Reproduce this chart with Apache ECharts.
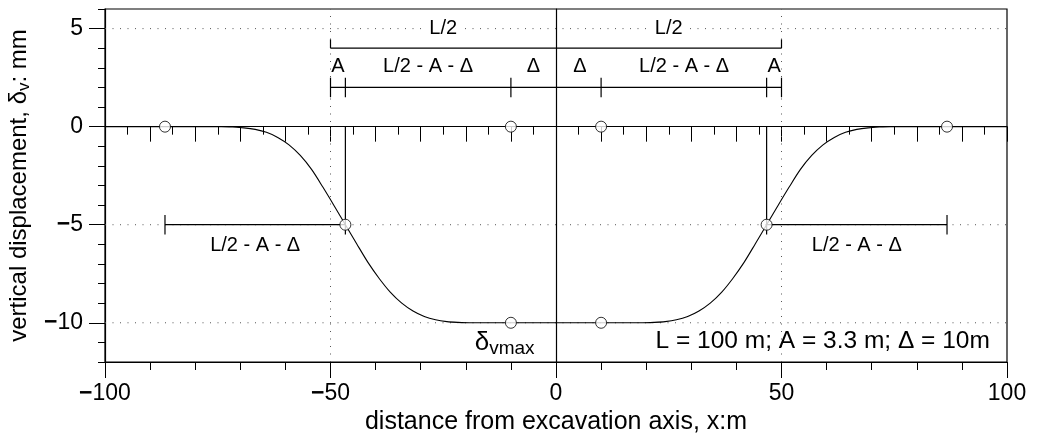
<!DOCTYPE html>
<html>
<head>
<meta charset="utf-8">
<script src="https://cdn.jsdelivr.net/npm/echarts@6/dist/echarts.min.js"></script>
<style>
  html, body { margin: 0; padding: 0; background: #fff; }
  #chart { width: 1042px; height: 436px; }
</style>
</head>
<body>
<div id="chart"></div>
<script>
const FONT = '"Liberation Sans", Arial, Helvetica, sans-serif';

// Axis ranges (x: m, δv: mm)
const X_RANGE = [-100, 100];
const Y_RANGE = [-12, 6];
const yMajorTicks = [-10, -5, 0, 5];

// Settlement trough δv(x)
const profileX = [-100, -90, -80, -74.2, -71.7, -69.2, -66.7, -64.2, -61.7, -59.2,
  -56.7, -54.2, -51.7, -49.2, -46.7, -44.2, -41.7, -39.2, -36.7, -34.2,
  -31.7, -29.2, -26.7, -24.2, -21.7, -19.2, -10, 0,
  10, 19.2, 21.7, 24.2, 26.7, 29.2, 31.7, 34.2, 36.7, 39.2,
  41.7, 44.2, 46.7, 49.2, 51.7, 54.2, 56.7, 59.2, 61.7, 64.2,
  66.7, 69.2, 71.7, 74.2, 80, 90, 100];
const profileY = [0, 0, 0, 0, -0.02, -0.06, -0.14, -0.29, -0.55, -0.93,
  -1.47, -2.18, -3.08, -4.03, -5.00, -5.97, -6.92, -7.74, -8.45, -9.00,
  -9.40, -9.68, -9.85, -9.94, -9.98, -10, -10, -10,
  -10, -10, -9.98, -9.94, -9.85, -9.68, -9.40, -9.00, -8.45, -7.74,
  -6.92, -5.97, -5.00, -4.03, -3.08, -2.18, -1.47, -0.93, -0.55, -0.29,
  -0.14, -0.06, -0.02, 0, 0, 0, 0];

// Characteristic points on the profile
const pointX = [-86.7, -10, 10, 86.7, -46.7, 46.7, -10, 10];
const pointY = [0, 0, 0, 0, -5, -5, -10, -10];

// Dotted reference lines
const refY = [5, -5, -10];
const refX = [-50, 50];

// Dimension lines: [x1, y1, x2, y2]
const dimLines = [
  [-50, 4, 50, 4], [-50, 4, -50, 4.45], [50, 4, 50, 4.45],
  [-50, 2, 50, 2],
  [-50, 1.5, -50, 2.5], [-46.7, 1.5, -46.7, 2.5], [-10, 1.5, -10, 2.5],
  [10, 1.5, 10, 2.5], [46.7, 1.5, 46.7, 2.5], [50, 1.5, 50, 2.5],
  [-86.7, -5, -46.7, -5], [-86.7, -5.5, -86.7, -4.5], [-46.7, 0, -46.7, -5.5],
  [46.7, -5, 86.7, -5], [86.7, -5.5, 86.7, -4.5], [46.7, 0, 46.7, -5.5]
];

// Dimension labels
const dimText = ['L/2', 'L/2', 'A', 'L/2 - A - Δ', 'Δ', 'Δ', 'L/2 - A - Δ', 'A', 'L/2 - A - Δ', 'L/2 - A - Δ'];
const dimTextX = [-25, 25, -48.35, -28.35, -5, 5.3, 28.4, 48.4, -66.7, 66.7];
const dimTextY = [5, 5, 3.05, 3.05, 3.05, 3.05, 3.05, 3.05, -6.05, -6.05];
const dimTextOpaque = [true, true, false, false, false, false, false, false, false, false];

// Notes
const maxLabel = { x: -11.4, y: -11.0 };
const paramNote = { text: 'L = 100 m; A = 3.3 m; Δ = 10m', x: 96.2, y: -10.95 };

const black = '#000';
const chart = echarts.init(document.getElementById('chart'), null, { renderer: 'canvas' });

const signed = v => (v < 0 ? '{m|−}' + Math.abs(v) : String(v));

const refSeries = [];
refY.forEach(y => refSeries.push({
  type: 'line', data: [[X_RANGE[0], y], [X_RANGE[1], y]], symbol: 'none', silent: true, z: 1,
  lineStyle: { color: '#555', width: 1, type: [1, 6.5] }
}));
refX.forEach(x => refSeries.push({
  type: 'line', data: [[x, Y_RANGE[0]], [x, Y_RANGE[1]]], symbol: 'none', silent: true, z: 1,
  lineStyle: { color: '#555', width: 1, type: [1, 6.5] }
}));

const option = {
  animation: false,
  backgroundColor: '#fff',
  textStyle: { fontFamily: FONT, color: black },
  grid: {
    left: 105, right: 35, top: 9, bottom: 74,
    show: true, borderColor: black, borderWidth: 1.2,
    outerBoundsMode: 'none', containLabel: false
  },
  xAxis: [
    {
      type: 'value', min: X_RANGE[0], max: X_RANGE[1], interval: 50, position: 'bottom',
      axisLine: { onZero: false, lineStyle: { color: black, width: 1.2 } },
      axisTick: { length: 16, lineStyle: { color: black, width: 1 } },
      minorTick: { show: true, splitNumber: 5, length: 8, lineStyle: { color: black, width: 1 } },
      splitLine: { show: false },
      axisLabel: {
        margin: 20, fontSize: 23, fontFamily: FONT, color: black,
        formatter: signed,
        rich: { m: { fontSize: 23, fontWeight: 'bold', fontFamily: FONT, color: black } }
      },
      name: 'distance from excavation axis, x:m', nameLocation: 'middle', nameGap: 39,
      nameTextStyle: { fontSize: 25, fontFamily: FONT, color: black }
    },
    {
      // axis line through δv = 0
      type: 'value', min: X_RANGE[0], max: X_RANGE[1], interval: 10, position: 'bottom',
      axisLine: { onZero: true, onZeroAxisIndex: 0, lineStyle: { color: black, width: 1.2 } },
      axisTick: { length: 15, lineStyle: { color: black, width: 1 } },
      minorTick: { show: true, splitNumber: 2, length: 8, lineStyle: { color: black, width: 1 } },
      axisLabel: { show: false },
      splitLine: { show: false }
    }
  ],
  yAxis: [
    {
      type: 'value', min: Y_RANGE[0], max: Y_RANGE[1], position: 'left',
      axisLine: { onZero: false, lineStyle: { color: black, width: 1.2 } },
      axisTick: { customValues: yMajorTicks, length: 16, lineStyle: { color: black, width: 1 } },
      axisLabel: {
        customValues: yMajorTicks, margin: 22, fontSize: 23, fontFamily: FONT, color: black,
        formatter: signed,
        rich: { m: { fontSize: 23, fontWeight: 'bold', fontFamily: FONT, color: black } }
      },
      splitLine: { show: false },
      name: 'vertical displacement, δ{s|v}: mm', nameLocation: 'middle', nameGap: 70,
      nameTextStyle: {
        fontSize: 24, fontFamily: FONT, color: black, lineHeight: 28,
        rich: { s: { fontSize: 17, fontFamily: FONT, color: black, lineHeight: 17, padding: [10, 0, 0, 0] } }
      }
    },
    {
      type: 'value', min: Y_RANGE[0], max: Y_RANGE[1], interval: 1, position: 'left',
      axisLine: { onZero: false, show: false },
      axisTick: { length: 7, lineStyle: { color: black, width: 1 } },
      axisLabel: { show: false },
      splitLine: { show: false }
    },
    {
      // axis line through x = 0
      type: 'value', min: Y_RANGE[0], max: Y_RANGE[1], position: 'left',
      axisLine: { onZero: true, onZeroAxisIndex: 0, lineStyle: { color: black, width: 1.2 } },
      axisTick: { show: false },
      axisLabel: { show: false },
      splitLine: { show: false }
    }
  ],
  series: refSeries.concat([
    {
      type: 'line', name: 'profile',
      data: profileX.map((x, i) => [x, profileY[i]]),
      symbol: 'none', smooth: 0.3, z: 3, silent: true,
      lineStyle: { color: black, width: 1.1 }
    },
    {
      type: 'custom', name: 'dimensions', z: 4, silent: true,
      data: dimLines,
      renderItem: (params, api) => {
        const a = api.coord([api.value(0), api.value(1)]);
        const b = api.coord([api.value(2), api.value(3)]);
        return {
          type: 'line',
          shape: { x1: a[0], y1: a[1], x2: b[0], y2: b[1] },
          style: { stroke: black, lineWidth: 1.2 }
        };
      }
    },
    {
      type: 'custom', name: 'dimension labels', z: 5, silent: true,
      data: dimTextX.map((x, i) => [x, dimTextY[i]]),
      renderItem: (params, api) => {
        const p = api.coord([api.value(0), api.value(1)]);
        const i = params.dataIndex;
        return {
          type: 'text', x: p[0], y: p[1], z2: 10,
          style: {
            text: dimText[i], fill: black, font: '20px ' + FONT,
            align: 'center', verticalAlign: 'middle',
            backgroundColor: dimTextOpaque[i] ? '#fff' : null,
            padding: dimTextOpaque[i] ? [0, 4] : 0
          }
        };
      }
    },
    {
      type: 'custom', name: 'notes', z: 5, silent: true,
      data: [[maxLabel.x, maxLabel.y], [paramNote.x, paramNote.y]],
      renderItem: (params, api) => {
        const p = api.coord([api.value(0), api.value(1)]);
        if (params.dataIndex === 0) {
          return {
            type: 'text', x: p[0], y: p[1],
            style: {
              text: '{d|δ}{s|vmax}', align: 'center', verticalAlign: 'middle',
              rich: {
                d: { fontSize: 26, fontFamily: FONT, fill: black, lineHeight: 30 },
                s: { fontSize: 19, fontFamily: FONT, fill: black, lineHeight: 19, padding: [12, 0, 0, 0] }
              }
            }
          };
        }
        return {
          type: 'text', x: p[0], y: p[1],
          style: {
            text: paramNote.text, fill: black, font: '24.5px ' + FONT,
            align: 'right', verticalAlign: 'middle'
          }
        };
      }
    },
    {
      type: 'scatter', name: 'points', z: 6, silent: true,
      data: pointX.map((x, i) => [x, pointY[i]]),
      symbol: 'circle', symbolSize: 11,
      itemStyle: { color: '#fff', borderColor: black, borderWidth: 1 }
    }
  ])
};

chart.setOption(option);
</script>
</body>
</html>
